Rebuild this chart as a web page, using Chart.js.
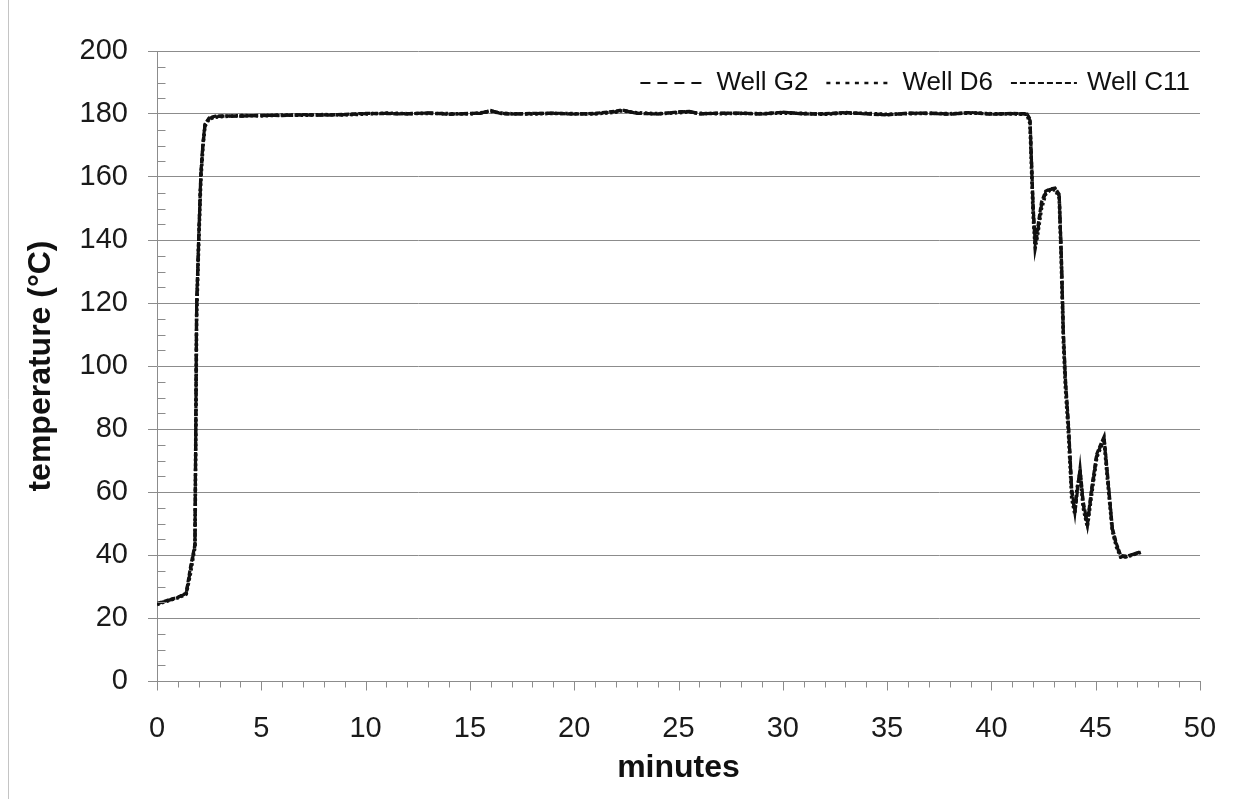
<!DOCTYPE html>
<html>
<head>
<meta charset="utf-8">
<script src="https://cdn.jsdelivr.net/npm/chart.js@4"></script>
<style>
html,body{margin:0;padding:0;background:#fff;}
#wrap{position:relative;width:1251px;height:799px;}
canvas{display:block;}
</style>
</head>
<body>
<div id="wrap"><canvas id="c" width="1251" height="799"></canvas></div>
<script>
// ---- data ----
const minutes = [0,0.5,1.0,1.4,1.6,1.75,1.82,1.86,1.9,2.0,2.1,2.2,2.3,2.5,2.8,3.2,4,5,6,7,8,9,10,11,12,13,14,15,15.5,16,16.5,17,18,19,20,21,22,22.3,23,24,25,25.5,26,27,28,29,30,31,32,33,34,35,36,37,38,39,40,41,41.7,41.85,42.0,42.1,42.2,42.4,42.6,42.8,43.05,43.25,43.35,43.45,43.55,43.7,43.85,44.0,44.1,44.25,44.4,44.6,44.8,45.05,45.2,45.4,45.55,45.8,46.0,46.2,46.5,46.8,47.2];
const wellG2 = [24.5,25.5,26.5,27.8,35,40.5,43,80,118,140,160,170,176.5,178.6,179.2,179.3,179.4,179.5,179.6,179.7,179.6,179.8,180.1,180.2,180.0,180.4,180.0,180.1,180.3,181.0,180.2,180.0,180.1,180.3,180.0,180.1,180.8,181.2,180.3,180.0,180.6,180.9,180.1,180.2,180.3,180.0,180.5,180.1,180.0,180.4,180.1,179.8,180.2,180.3,180.0,180.4,180.0,180.1,180.0,178,150,138.5,142,151,155,156,156.3,154,135,110,95,80,60,53.5,60,67,56,49.5,60,71.5,74,77,66,48,43,39.5,39.5,40.2,41];
const wellD6 = [24.3,25.4,26.4,27.6,34,40,42.5,78,116,139,159,169.5,176.2,178.4,179.0,179.2,179.5,179.4,179.7,179.6,179.8,179.7,180.0,180.3,180.1,180.2,180.1,180.0,180.4,180.8,180.3,180.1,180.0,180.2,180.1,180.0,180.6,181.0,180.4,180.1,180.4,180.7,180.2,180.1,180.2,180.1,180.3,180.2,179.9,180.3,180.2,179.9,180.1,180.2,180.1,180.3,180.1,180.0,179.9,177,148,137.5,141,150,154.5,155.8,156.0,153.5,133,108,93,78,58,53,61,66,55,49,59,71,73.5,76.5,65,47.5,42.5,39.3,39.4,40.1,40.9];
const wellC11 = [24.6,25.6,26.6,27.9,36,41,43.5,82,120,141,161,170.5,176.8,178.8,179.3,179.4,179.3,179.6,179.5,179.8,179.7,179.9,180.2,180.1,180.1,180.3,179.9,180.2,180.2,181.1,180.1,180.0,180.2,180.2,180.0,180.2,180.9,181.3,180.2,180.0,180.7,180.8,180.0,180.3,180.2,180.0,180.6,180.0,180.1,180.5,180.0,179.7,180.3,180.2,179.9,180.5,179.9,180.2,180.1,178.5,151,139,143,152,155.5,156.2,156.5,154.5,136,111,96,81,61,54,59,67.5,57,50,61,72,74.5,77.5,67,48.5,43.5,39.8,39.6,40.3,41.1];
const seriesNames = ['Well G2','Well D6','Well C11'];
const xTickValues = [0,5,10,15,20,25,30,35,40,45,50];
const yTickValues = [0,20,40,60,80,100,120,140,160,180,200];
const xTitle = 'minutes';
const yTitle = 'temperature (°C)';

const FONT = '"Liberation Sans", Arial, sans-serif';
const toPts = arr => minutes.map((m, i) => ({x: m, y: arr[i]}));

// minor ticks + left frame line
const decorPlugin = {
  id: 'decor',
  beforeDraw(chart) {
    const ctx = chart.ctx;
    ctx.save();
    ctx.strokeStyle = '#c4c4c4';
    ctx.lineWidth = 1;
    ctx.beginPath();
    ctx.moveTo(8.5, 0);
    ctx.lineTo(8.5, chart.height);
    ctx.stroke();
    ctx.restore();
  },
  afterDraw(chart) {
    const {ctx, scales: {x, y}} = chart;
    ctx.save();
    ctx.strokeStyle = '#8c8c8c';
    ctx.lineWidth = 1;
    ctx.beginPath();
    const yb = Math.round(y.getPixelForValue(0)) + 0.5;
    for (let v = 0; v <= 50; v += 1) {
      const px = Math.round(x.getPixelForValue(v)) + 0.5;
      const len = (v % 5 === 0) ? 9 : 6;
      ctx.moveTo(px, yb);
      ctx.lineTo(px, yb + len);
    }
    const xl = Math.round(x.getPixelForValue(0)) + 0.5;
    for (let v = 5; v < 200; v += 5) {
      if (v % 20 === 0) continue;
      const py = Math.round(y.getPixelForValue(v)) + 0.5;
      ctx.moveTo(xl, py);
      ctx.lineTo(xl + 8, py);
    }
    ctx.stroke();
    ctx.restore();
  }
};

// legend drawn inside the plot, top-right
const legendPlugin = {
  id: 'inlineLegend',
  afterDraw(chart) {
    const {ctx, chartArea} = chart;
    ctx.save();
    ctx.font = '26px ' + FONT;
    ctx.textBaseline = 'middle';
    ctx.fillStyle = '#111';
    const lineLen = 66, gapText = 10, gapItem = 18;
    const ds = chart.data.datasets;
    let total = 0;
    const widths = ds.map(d => ctx.measureText(d.label).width);
    widths.forEach((w, i) => { total += lineLen + gapText + w + (i < ds.length - 1 ? gapItem : 0); });
    let xPos = chartArea.right - 10 - total;
    const yc = chartArea.top + 32;
    ds.forEach((d, i) => {
      ctx.save();
      ctx.strokeStyle = '#111';
      ctx.lineWidth = d.legendWidth;
      ctx.setLineDash(d.legendDash);
      ctx.beginPath();
      ctx.moveTo(xPos, yc);
      ctx.lineTo(xPos + lineLen, yc);
      ctx.stroke();
      ctx.restore();
      xPos += lineLen + gapText;
      ctx.fillText(d.label, xPos, yc);
      xPos += widths[i] + gapItem;
    });
    ctx.restore();
  }
};

new Chart(document.getElementById('c'), {
  type: 'line',
  data: {
    datasets: [
      {label: seriesNames[0], data: toPts(wellG2), borderColor: '#111', borderWidth: 3.2, borderDash: [7,4], pointRadius: 0, tension: 0, legendDash: [10,7], legendWidth: 2.2},
      {label: seriesNames[1], data: toPts(wellD6), borderColor: '#111', borderWidth: 3.6, borderDash: [2.5,2.5], pointRadius: 0, tension: 0, legendDash: [4,5.5], legendWidth: 2.6},
      {label: seriesNames[2], data: toPts(wellC11), borderColor: '#111', borderWidth: 3.2, borderDash: [5,2], pointRadius: 0, tension: 0, legendDash: [6,3], legendWidth: 2.2}
    ]
  },
  options: {
    responsive: false,
    animation: false,
    devicePixelRatio: 1,
    layout: {padding: {left: 0, top: 51, right: 51, bottom: 0}},
    plugins: {legend: {display: false}, tooltip: {enabled: false}},
    scales: {
      x: {
        type: 'linear', min: 0, max: 50,
        afterBuildTicks: s => { s.ticks = xTickValues.map(v => ({value: v})); },
        afterFit: s => { s.height = 118; },
        grid: {display: false, drawTicks: false},
        border: {display: true, color: '#8c8c8c', width: 1},
        ticks: {font: {family: FONT, size: 29}, color: '#1a1a1a', padding: 31, maxRotation: 0, autoSkip: false},
        title: {display: true, text: xTitle, font: {family: FONT, size: 32, weight: 'bold'}, color: '#111', padding: {top: 0, bottom: 12}}
      },
      y: {
        min: 0, max: 200,
        afterBuildTicks: s => { s.ticks = yTickValues.map(v => ({value: v})); },
        afterFit: s => { s.width = 157; },
        grid: {color: '#8c8c8c', lineWidth: 1, tickLength: 9, drawTicks: true},
        border: {display: true, color: '#8c8c8c', width: 1},
        ticks: {font: {family: FONT, size: 29}, color: '#1a1a1a', padding: 20, autoSkip: false},
        title: {display: true, text: yTitle, font: {family: FONT, size: 32, weight: 'bold'}, color: '#111', padding: {top: 22, bottom: 0}}
      }
    }
  },
  plugins: [decorPlugin, legendPlugin]
});
</script>
</body>
</html>
